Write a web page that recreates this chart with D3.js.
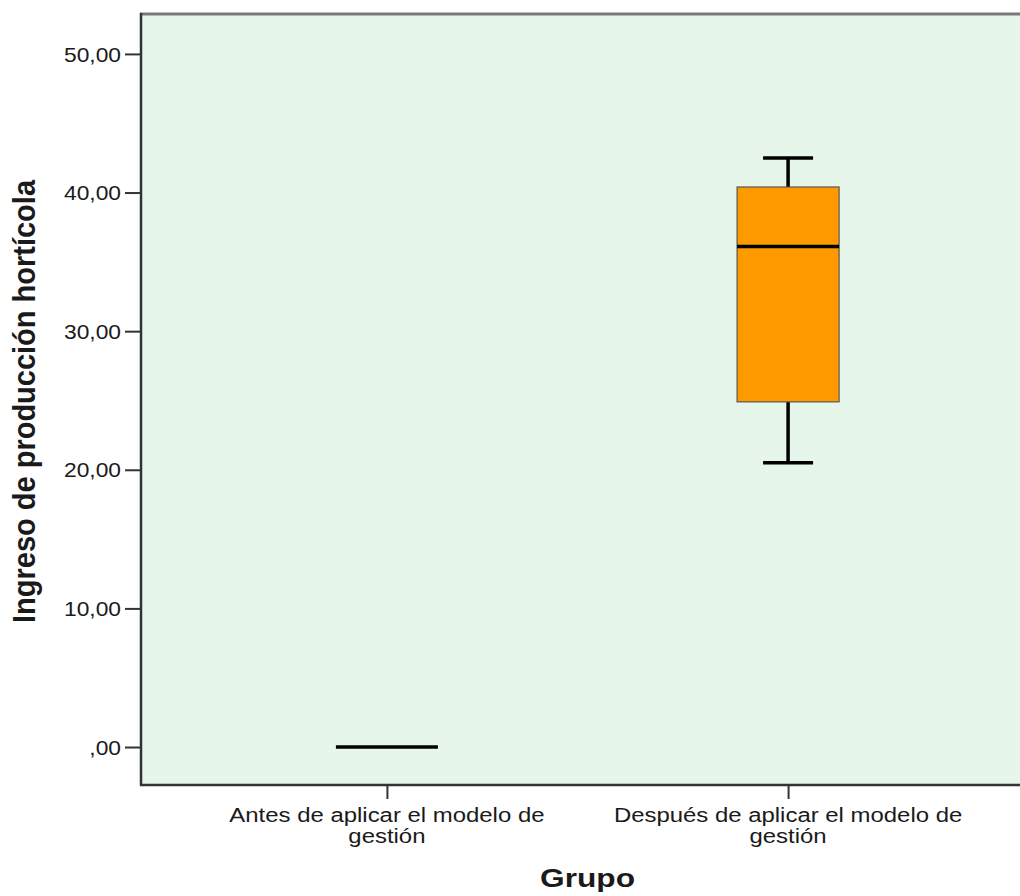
<!DOCTYPE html>
<html>
<head>
<meta charset="utf-8">
<script src="https://cdn.jsdelivr.net/npm/d3@7"></script>
<style>
  body { margin: 0; background: #fff; }
  svg { display: block; }
  text { font-family: Arial, "Liberation Sans", sans-serif; fill: #1a1a1a; }
</style>
</head>
<body>
<svg width="1020" height="896"></svg>
<script>
(function () {
  'use strict';

  // data
  var groups = ["antes", "despues"];
  var groupLabels = [
    ["Antes de aplicar el modelo de", "gestión"],
    ["Después de aplicar el modelo de", "gestión"]
  ];
  var mins    = [0, 20.5];
  var q1s     = [0, 24.9];
  var medians = [0, 36.1];
  var q3s     = [0, 40.4];
  var maxs    = [0, 42.5];
  var yTicks  = [0, 10, 20, 30, 40, 50];

  var svg = d3.select("svg");

  var left = 141, top = 14, bottom = 785, right = 1034;

  var y = d3.scaleLinear().domain([-2.74, 52.88]).range([bottom, top]);
  var x = d3.scalePoint().domain(groups).range([left, right]).padding(0.613);

  var fmt = function (v) {
    var s = v.toFixed(2).replace(".", ",");
    return s.indexOf("0,") === 0 ? s.slice(1) : s;
  };

  // plot background
  svg.append("rect")
      .attr("x", left).attr("y", top)
      .attr("width", right - left).attr("height", bottom - top)
      .attr("fill", "#e6f6ea");

  // frame
  svg.append("line")
      .attr("x1", left - 1).attr("x2", 1020).attr("y1", top).attr("y2", top)
      .attr("stroke", "#7a7a7a").attr("stroke-width", 3);
  svg.append("line")
      .attr("x1", left).attr("x2", left).attr("y1", top - 1).attr("y2", bottom + 1)
      .attr("stroke", "#333").attr("stroke-width", 2.5);
  svg.append("line")
      .attr("x1", left - 1).attr("x2", 1020).attr("y1", bottom).attr("y2", bottom)
      .attr("stroke", "#333").attr("stroke-width", 2.5);

  // y axis
  var yAxis = svg.append("g")
      .attr("transform", "translate(" + left + ",0)")
      .call(d3.axisLeft(y).tickValues(yTicks).tickSize(16).tickPadding(0).tickFormat(fmt));
  yAxis.select(".domain").remove();
  yAxis.selectAll(".tick line").attr("stroke", "#333").attr("stroke-width", 2);
  yAxis.selectAll(".tick text")
      .attr("x", null).attr("dy", "0.36em")
      .attr("font-size", 20)
      .attr("transform", "translate(-20,0) scale(1.14,1)")
      .attr("fill", "#1a1a1a");

  // x axis
  var xAxis = svg.append("g")
      .attr("transform", "translate(0," + bottom + ")")
      .call(d3.axisBottom(x).tickSize(14).tickFormat(""));
  xAxis.select(".domain").remove();
  xAxis.selectAll(".tick line").attr("stroke", "#333").attr("stroke-width", 2);

  groups.forEach(function (g, i) {
    var t = svg.append("text")
        .attr("text-anchor", "middle")
        .attr("font-size", 21)
        .attr("transform", "translate(" + x(g) + ",822) scale(1.14,1)");
    groupLabels[i].forEach(function (line, j) {
      t.append("tspan").attr("x", 0).attr("y", j * 21.5).text(line);
    });
  });

  // boxes
  var boxW = 102, capW = 50;
  var box = svg.selectAll(".box")
      .data(groups)
      .enter().append("g")
      .attr("class", "box");

  box.append("line")
      .attr("x1", function (d) { return x(d); })
      .attr("x2", function (d) { return x(d); })
      .attr("y1", function (d, i) { return y(maxs[i]); })
      .attr("y2", function (d, i) { return y(q3s[i]); })
      .attr("stroke", "#000").attr("stroke-width", 3.5);
  box.append("line")
      .attr("x1", function (d) { return x(d); })
      .attr("x2", function (d) { return x(d); })
      .attr("y1", function (d, i) { return y(q1s[i]); })
      .attr("y2", function (d, i) { return y(mins[i]); })
      .attr("stroke", "#000").attr("stroke-width", 3.5);
  [maxs, mins].forEach(function (arr) {
    box.append("line")
        .attr("x1", function (d) { return x(d) - capW / 2; })
        .attr("x2", function (d) { return x(d) + capW / 2; })
        .attr("y1", function (d, i) { return y(arr[i]); })
        .attr("y2", function (d, i) { return y(arr[i]); })
        .attr("stroke", function (d, i) { return q3s[i] > q1s[i] ? "#000" : "none"; })
        .attr("stroke-width", 3.5);
  });
  box.append("rect")
      .attr("x", function (d) { return x(d) - boxW / 2; })
      .attr("y", function (d, i) { return y(q3s[i]); })
      .attr("width", boxW)
      .attr("height", function (d, i) { return y(q1s[i]) - y(q3s[i]); })
      .attr("fill", "#ff9900")
      .attr("stroke", "#555").attr("stroke-width", 1.2);
  box.append("line")
      .attr("x1", function (d) { return x(d) - boxW / 2; })
      .attr("x2", function (d) { return x(d) + boxW / 2; })
      .attr("y1", function (d, i) { return y(medians[i]); })
      .attr("y2", function (d, i) { return y(medians[i]); })
      .attr("stroke", "#000").attr("stroke-width", 3.5);

  // axis titles
  svg.append("text")
      .attr("text-anchor", "middle")
      .attr("font-size", 27).attr("font-weight", "bold")
      .attr("textLength", 443).attr("lengthAdjust", "spacingAndGlyphs")
      .attr("transform", "translate(35,401.5) scale(1.14,1) rotate(-90)")
      .text("Ingreso de producción hortícola");

  svg.append("text")
      .attr("x", 587.5).attr("y", 887)
      .attr("text-anchor", "middle")
      .attr("font-size", 25).attr("font-weight", "bold")
      .attr("textLength", 95).attr("lengthAdjust", "spacingAndGlyphs")
      .text("Grupo");
}());
</script>
</body>
</html>
